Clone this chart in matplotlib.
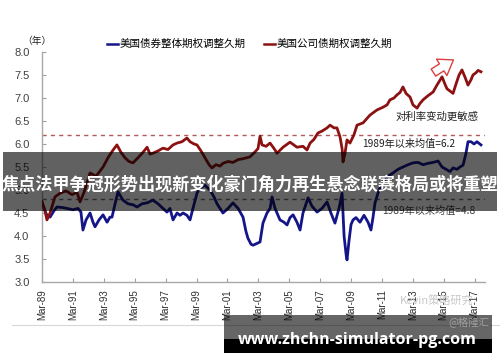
import matplotlib
matplotlib.use("Agg")
import matplotlib.pyplot as plt
from matplotlib.patches import Rectangle
from matplotlib.lines import Line2D

plt.rcParams['font.family'] = ['Noto Sans CJK SC', 'DejaVu Sans']

# ---- data (decimal year, option-adjusted duration in years) ----
corp_points = [
    (1989.17, 4.74), (1989.36, 4.55), (1989.49, 4.35), (1989.69, 4.5), (1990.01, 4.85),
    (1990.34, 4.93), (1990.72, 4.98), (1991.11, 4.9), (1991.44, 4.95), (1991.63, 4.74),
    (1991.89, 4.95), (1992.28, 5.37), (1992.67, 5.3), (1993.12, 5.5), (1993.44, 5.7),
    (1993.77, 5.87), (1994.02, 5.98), (1994.28, 5.82), (1994.54, 5.7), (1994.80, 5.62),
    (1995.06, 5.59), (1995.38, 5.7), (1995.71, 5.82), (1995.97, 5.93), (1996.16, 5.78),
    (1996.35, 5.8), (1996.68, 5.85), (1997.00, 5.91), (1997.32, 5.88), (1997.65, 5.98),
    (1997.91, 6.02), (1998.23, 6.05), (1998.55, 6.13), (1998.75, 6.05), (1999.01, 6.0),
    (1999.20, 5.98), (1999.46, 5.85), (1999.72, 5.7), (1999.98, 5.55), (2000.17, 5.48),
    (2000.43, 5.55), (2000.69, 5.52), (2000.88, 5.58), (2001.21, 5.62), (2001.53, 5.6),
    (2001.86, 5.66), (2002.18, 5.68), (2002.63, 5.72), (2002.96, 5.83), (2003.15, 5.9),
    (2003.28, 6.17), (2003.41, 5.98), (2003.67, 5.95), (2003.93, 6.02), (2004.19, 5.9),
    (2004.38, 5.8), (2004.77, 5.93), (2005.22, 6.04), (2005.67, 5.93), (2006.06, 5.95),
    (2006.32, 5.87), (2006.52, 6.02), (2006.77, 6.1), (2007.03, 6.24), (2007.29, 6.28),
    (2007.62, 6.35), (2007.81, 6.41), (2008.07, 6.35), (2008.26, 6.35), (2008.46, 6.15),
    (2008.59, 5.9), (2008.65, 5.61), (2008.78, 5.8), (2008.91, 6.09), (2009.10, 6.02),
    (2009.36, 6.2), (2009.56, 6.41), (2009.95, 6.46), (2010.40, 6.63), (2010.85, 6.74),
    (2011.24, 6.8), (2011.50, 6.85), (2011.69, 6.96), (2011.95, 7.0), (2012.15, 7.07),
    (2012.34, 7.12), (2012.53, 7.24), (2012.73, 7.1), (2012.99, 7.02), (2013.18, 6.85),
    (2013.44, 6.78), (2013.63, 6.88), (2013.83, 6.96), (2014.15, 7.05), (2014.48, 7.13),
    (2014.73, 7.28), (2015.06, 7.46), (2015.25, 7.3), (2015.38, 7.2), (2015.58, 7.15),
    (2015.77, 7.1), (2015.96, 7.3), (2016.16, 7.5), (2016.35, 7.61), (2016.55, 7.45),
    (2016.74, 7.28), (2016.94, 7.4), (2017.06, 7.5), (2017.26, 7.55), (2017.39, 7.6),
    (2017.58, 7.57),
]

agg_points = [
    (1989.17, 4.74), (1989.36, 4.55), (1989.49, 4.45), (1989.69, 4.41), (1989.95, 4.55),
    (1990.14, 4.63), (1990.46, 4.62), (1990.79, 4.6), (1991.18, 4.57), (1991.50, 4.6),
    (1991.69, 4.52), (1991.82, 4.13), (1992.02, 4.35), (1992.28, 4.5), (1992.47, 4.3),
    (1992.60, 4.2), (1992.86, 4.35), (1993.12, 4.46), (1993.38, 4.3), (1993.57, 4.41),
    (1993.70, 4.41), (1993.90, 4.7), (1994.09, 4.96), (1994.41, 4.78), (1994.74, 4.7),
    (1995.06, 4.68), (1995.32, 4.63), (1995.64, 4.7), (1995.97, 4.72), (1996.35, 4.78),
    (1996.68, 4.7), (1997.00, 4.6), (1997.26, 4.52), (1997.45, 4.6), (1997.65, 4.35),
    (1997.91, 4.5), (1998.10, 4.45), (1998.30, 4.5), (1998.55, 4.45), (1998.75, 4.35),
    (1998.94, 4.6), (1999.20, 4.93), (1999.40, 5.05), (1999.72, 5.1), (2000.04, 5.0),
    (2000.30, 4.85), (2000.50, 4.7), (2000.69, 4.6), (2000.88, 4.5), (2001.21, 4.6),
    (2001.53, 4.72), (2001.86, 4.6), (2002.18, 4.41), (2002.37, 4.1), (2002.50, 3.95),
    (2002.70, 3.82), (2002.83, 3.8), (2003.09, 3.84), (2003.28, 3.87), (2003.47, 4.28),
    (2003.73, 4.5), (2003.93, 4.6), (2004.06, 4.85), (2004.25, 4.6), (2004.38, 4.5),
    (2004.57, 4.35), (2004.83, 4.3), (2005.03, 4.24), (2005.22, 4.4), (2005.42, 4.46),
    (2005.67, 4.3), (2005.87, 4.13), (2006.06, 4.5), (2006.26, 4.7), (2006.39, 4.83),
    (2006.64, 4.65), (2006.97, 4.52), (2007.29, 4.6), (2007.62, 4.74), (2007.87, 4.5),
    (2008.13, 4.28), (2008.39, 4.6), (2008.59, 4.93), (2008.72, 4.0), (2008.85, 3.6),
    (2008.91, 3.48), (2009.04, 3.9), (2009.17, 4.25), (2009.30, 4.35), (2009.49, 4.4),
    (2009.75, 4.3), (2010.01, 4.45), (2010.27, 4.3), (2010.46, 4.13), (2010.59, 4.4),
    (2010.72, 4.72), (2010.98, 5.0), (2011.30, 5.2), (2011.56, 5.3), (2011.89, 5.37),
    (2012.21, 5.45), (2012.53, 5.5), (2012.86, 5.55), (2013.18, 5.59), (2013.51, 5.6),
    (2013.83, 5.55), (2014.15, 5.58), (2014.48, 5.6), (2014.80, 5.63), (2015.06, 5.5),
    (2015.32, 5.45), (2015.58, 5.4), (2015.77, 5.48), (2016.03, 5.45), (2016.22, 5.5),
    (2016.42, 5.54), (2016.61, 5.8), (2016.74, 6.05), (2016.94, 6.05), (2017.13, 6.0),
    (2017.32, 6.05), (2017.58, 5.98),
]

corp_mean = 6.2
agg_mean = 4.8
tick_years = [1989, 1991, 1993, 1995, 1997, 1999, 2001, 2003, 2005, 2007, 2009, 2011, 2013, 2015, 2017]
tick_labels = ["Mar-%02d" % (y % 100) for y in tick_years]
y_ticks = [3.0, 3.5, 4.0, 4.5, 5.0, 5.5, 6.0, 6.5, 7.0, 7.5, 8.0]

name_agg = "美国债券整体期权调整久期"
name_corp = "美国公司债期权调整久期"
banner_text = "焦点法甲争冠形势出现新变化豪门角力再生悬念联赛格局或将重塑"
site_text = "www.zhchn-simulator-pg.com"

# ---- figure ----
W, H = 500, 362
fig = plt.figure(figsize=(W / 100, H / 100), dpi=100)
fig.patch.set_facecolor('white')

def fx(px):
    return px / W

def fy(py):
    return 1 - py / H

AX_L, AX_R = 42, 485
ax = fig.add_axes([fx(AX_L), fy(282), fx(AX_R) - fx(AX_L), fy(52) - fy(282)])
ax.set_facecolor('white')

blue = '#15158a'
red = '#8c1212'

ta, va_ = zip(*agg_points)
tc, vc = zip(*corp_points)
ax.plot(ta, va_, color=blue, lw=2.0, solid_joinstyle='round', label=name_agg, zorder=3)
ax.plot(tc, vc, color=red, lw=2.0, solid_joinstyle='round', label=name_corp, zorder=3)

ax.axhline(corp_mean, color='#b05a5a', lw=1.0, ls=(0, (3, 3)), zorder=2)
ax.axhline(agg_mean, color='#707070', lw=1.0, ls=(0, (3, 3)), zorder=2)

ax.set_xlim(1989.17, 2017.84)
ax.set_ylim(3.0, 8.0)
ax.set_xticks([y + 0.17 for y in tick_years])
ax.set_xticklabels(tick_labels, rotation=90, fontsize=7, family=['Liberation Sans', 'DejaVu Sans'], color='#303030')
ax.set_yticks(y_ticks)
ax.set_yticklabels(["%.1f" % v for v in y_ticks], fontsize=8, family=['Liberation Sans', 'DejaVu Sans'], color='#404040')
ax.tick_params(axis='both', direction='in', length=3, color='#a0a0a0', width=0.8)
ax.tick_params(axis='y', pad=9)
ax.tick_params(axis='x', pad=5)
for s in ['top', 'right']:
    ax.spines[s].set_visible(False)
for s in ['left', 'bottom']:
    ax.spines[s].set_color('#a8a8a8')
    ax.spines[s].set_linewidth(1.0)

leg = ax.legend(loc='lower left', bbox_to_anchor=((104 - AX_L) / (AX_R - AX_L), 1.0),
                ncol=2, frameon=False, fontsize=7.6, handlelength=1.1, handletextpad=0.15,
                columnspacing=1.7, borderaxespad=0.15, borderpad=0.1)
for line in leg.get_lines():
    line.set_linewidth(1.8)

fig.text(fx(22), fy(41), "（年）", fontsize=7, ha='left', va='center', color='#202020')

# annotations
ax.text(2012.02, 6.59, "对利率变动更敏感", fontsize=7.5, ha='left', va='center', color='#202020', zorder=4)
ax.text(2009.88, 6.0, "1989年以来均值=6.2", fontsize=7.3, ha='left', va='center', color='#202020', zorder=4)
ax.text(2011.17, 4.54, "1989年以来均值=4.8", fontsize=7.3, ha='left', va='center', color='#404040', zorder=4)
ax.annotate("", xy=(2015.95, 7.86), xytext=(2014.35, 7.52),
            arrowprops=dict(arrowstyle='simple,head_width=1.4,head_length=1.0,tail_width=0.6',
                            fc='white', ec='#d84040', lw=1.0), zorder=4)

# watermark text
fig.text(fx(400), fy(300), "Kevin策略研究", fontsize=8, color='#c8c8c8', ha='left', va='center')

# frame line
fig.add_artist(Line2D([fx(12), fx(500)], [fy(325), fy(325)], color='#d8d8d8', lw=0.8))

# main banner
fig.add_artist(Rectangle((fx(3), fy(211)), fx(497) - fx(3), fy(152) - fy(211),
                         transform=fig.transFigure, facecolor='black', alpha=0.62, edgecolor='none', zorder=10))
fig.text(0.5, fy(185), banner_text, fontsize=12.3, fontweight='bold', color='white',
         ha='center', va='center', zorder=11)

# bottom banner
fig.add_artist(Rectangle((fx(224), fy(339)), fx(492) - fx(224), fy(315) - fy(339),
                         transform=fig.transFigure, facecolor='black', alpha=0.6, edgecolor='none', zorder=10))
fig.add_artist(Rectangle((fx(224), fy(353)), fx(492) - fx(224), fy(339) - fy(353),
                         transform=fig.transFigure, facecolor='black', edgecolor='none', zorder=10))
fig.text(fx(448), fy(322), "@格隆汇", fontsize=7.5, color='#a0a0a0', ha='left', va='center', zorder=11)
fig.text(fx(357), fy(344), site_text, fontsize=11.5, fontweight='bold', color='white',
         family=['Open Sans', 'DejaVu Sans'], ha='center', va='baseline', zorder=12)

fig.savefig("out.png", dpi=100)
